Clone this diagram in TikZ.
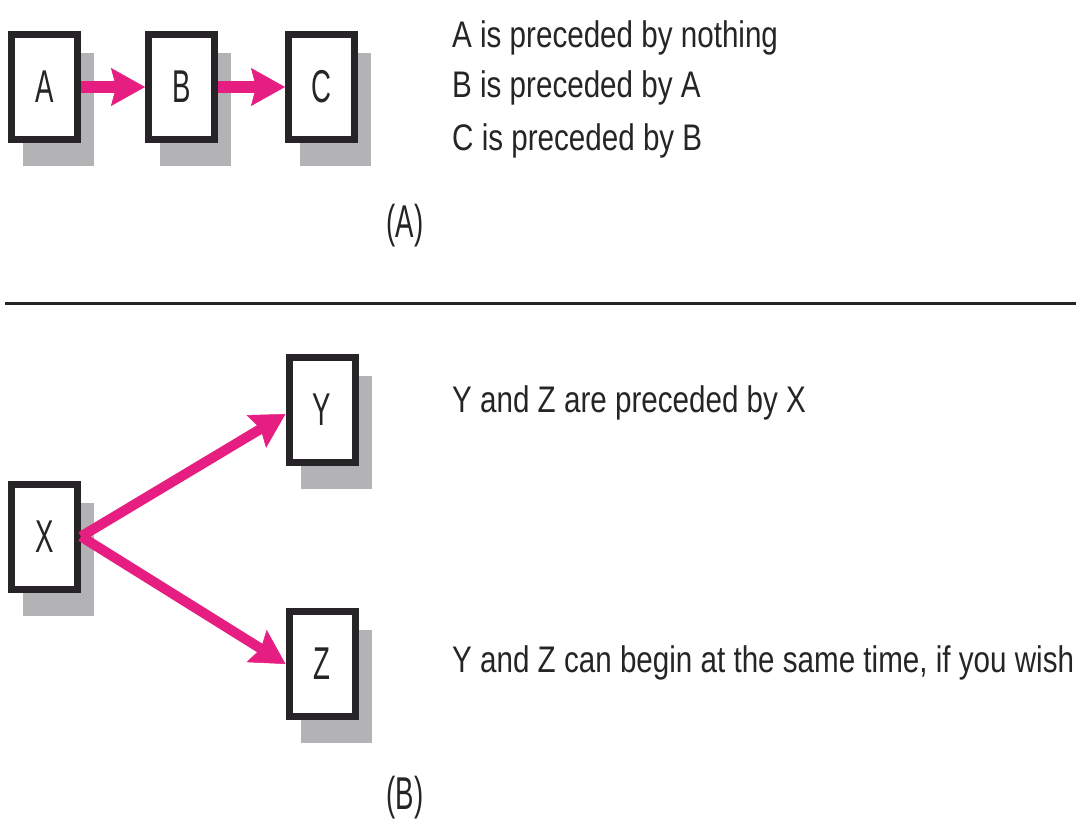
\documentclass[tikz,border=0pt]{standalone}
\usepackage{fontspec}
\setmainfont{Liberation Sans}
\newfontfamily\narrowfont[FakeStretch=0.8]{Liberation Sans}
\newfontfamily\labelfont[FakeStretch=0.6]{Liberation Sans}
\usetikzlibrary{arrows.meta,backgrounds}
\definecolor{rubine}{RGB}{230,30,130}
\definecolor{shadowgrey}{RGB}{179,179,181}
\definecolor{ink}{RGB}{38,36,38}

\begin{document}
\begin{tikzpicture}[x=1pt,y=-1pt,
  task/.style={draw=ink, line width=7pt, fill=white, minimum width=66pt,
    minimum height=105pt, inner sep=0pt, text=ink,
    font=\labelfont\fontsize{46}{46}\selectfont},
  link/.style={draw=rubine, line width=12pt,
    -{Stealth[length=34pt,width=38pt,inset=5pt,line width=0.5pt]}},
  slantlink/.style={link, line width=10pt},
  note/.style={anchor=base west, inner sep=0pt, text=ink,
    font=\narrowfont\fontsize{37}{44}\selectfont},
  tag/.style={inner sep=0pt, text=ink,
    font=\labelfont\fontsize{46}{46}\selectfont}]
\useasboundingbox (0,0) rectangle (1077,822);

% task boxes
\node[task] (a) at (44.5,87) {A};
\node[task] (b) at (181.5,87) {B};
\node[task] (c) at (321.5,87) {C};
\node[task] (x) at (44.5,536.5) {X};
\node[task] (y) at (322,410) {Y};
\node[task] (z) at (322,664) {Z};

% offset grey shadows behind every box
\begin{scope}[on background layer]
  \foreach \n in {a,b,c,x,y,z}
    \fill[shadowgrey] ([shift={(15,23)}]\n.south west) rectangle ([shift={(13,22)}]\n.north east);
\end{scope}

% precedence links
\draw[link] (a) -- (b);
\draw[link] (b) -- (c);
\draw[slantlink] (x.east) -- ([yshift=-4pt]y.west);
\draw[slantlink] (x.east) -- (z.west);

% explanations
\node[note] (n1) at (452,47) {A is preceded by nothing};
\node[note] (n2) at (452,97) {B is preceded by A};
\node[note] (n3) at (452,150) {C is preceded by B};
\node[note] (n4) at (452,412) {Y and Z are preceded by X};
\node[note] (n5) at (452,672) {Y and Z can begin at the same time, if you wish};

% panel captions
\node[tag] (ta) at (405,226) {(A)};
\node[tag] (tb) at (405,798) {(B)};

% divider between the two panels
\coordinate (dl) at (5,303.5);
\coordinate (dr) at (1076,303.5);
\draw[ink, line width=3pt] (dl) -- (dr);
\end{tikzpicture}
\end{document}
